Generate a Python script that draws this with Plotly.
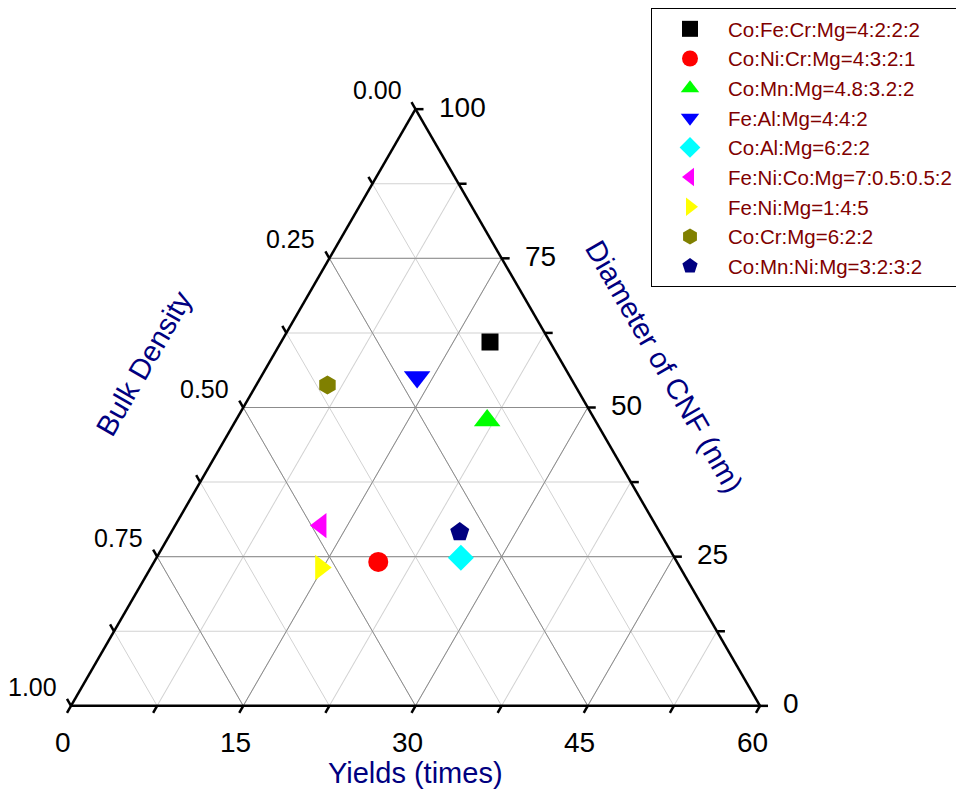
import math
import plotly.graph_objects as go

# ---- data ----
names = ["Co:Fe:Cr:Mg=4:2:2:2", "Co:Ni:Cr:Mg=4:3:2:1", "Co:Mn:Mg=4.8:3.2:2",
         "Fe:Al:Mg=4:4:2", "Co:Al:Mg=6:2:2", "Fe:Ni:Co:Mg=7:0.5:0.5:2",
         "Fe:Ni:Mg=1:4:5", "Co:Cr:Mg=6:2:2", "Co:Mn:Ni:Mg=3:2:3:2"]
diameter = [61.0, 24.1, 47.8, 55.1, 24.8, 30.2, 23.2, 53.8, 29.1]          # nm, 0-100
bulk_density = [0.087, 0.433, 0.157, 0.222, 0.310, 0.486, 0.522, 0.359, 0.290]  # 0-1
yields = [18.2, 19.5, 21.9, 13.6, 26.5, 12.7, 14.8, 6.2, 25.1]             # times, 0-60

symbols = ["square", "circle", "triangle-up", "triangle-down", "diamond",
           "triangle-left", "triangle-right", "hexagon", "pentagon"]
colors = ["#000000", "#FF0000", "#00FF00", "#0000FF", "#00FFFF",
          "#FF00FF", "#FFFF00", "#808000", "#000080"]
sizes = [17, 20, 23, 23, 20, 22, 22, 19, 20]

tick_vals = [0, 0.125, 0.25, 0.375, 0.5, 0.625, 0.75, 0.875, 1.0]
major_vals = [0.0, 0.25, 0.5, 0.75, 1.0]
density_labels = ["0.00", "0.25", "0.50", "0.75", "1.00"]
yield_labels = ["0", "15", "30", "45", "60"]
diam_labels = ["0", "25", "50", "75", "100"]

DIAM_MAX, YIELD_MAX = 100.0, 60.0

# ---- page geometry (the page body adds an 8px offset) ----
OFF = 8
W, H = 964 - OFF, 794 - OFF
ML, MT = 71 - OFF, 109 - OFF
PW, PH = 689, 597
MR, MB = W - ML - PW, H - MT - PH
SIDE = min(PW, PH * 2 / math.sqrt(3))
TH = SIDE * math.sqrt(3) / 2
X0 = ML + PW / 2 - SIDE / 2
Y0 = MT + PH / 2 - TH / 2          # apex y (px from figure top)


def tern_px(a, c):
    """figure-pixel position of a ternary point (a top, c bottom-right)."""
    return X0 + SIDE * (c + a / 2), Y0 + TH * (1 - a)


def to_paper(px, py):
    return (px - ML) / PW, (H - MB - py) / PH


def page_to_paper(px, py):
    return to_paper(px - OFF, py - OFF)


font_fam = "Liberation Sans, Arial, sans-serif"
fig = go.Figure()

# major gridlines (darker) drawn over the light minor grid
ga, gb, gc = [], [], []
for v in major_vals[1:-1]:
    ga += [v, v, None, 1 - v, 0, None, 1 - v, 0, None]
    gb += [1 - v, 0, None, v, v, None, 0, 1 - v, None]
    gc += [0, 1 - v, None, 0, 1 - v, None, v, v, None]
fig.add_trace(go.Scatterternary(a=ga, b=gb, c=gc, mode="lines",
                                line=dict(color="#8c8c8c", width=1),
                                showlegend=False, hoverinfo="skip"))

for i, n in enumerate(names):
    fig.add_trace(go.Scatterternary(
        a=[diameter[i] / DIAM_MAX], b=[bulk_density[i]], c=[yields[i] / YIELD_MAX],
        mode="markers", name=n,
        marker=dict(symbol=symbols[i], color=colors[i], size=sizes[i],
                    line=dict(width=0))))

# ---- ticks (extensions of the grid lines) and tick labels ----
TL = 8
s60, c60 = math.sin(math.radians(60)), math.cos(math.radians(60))
shapes, annotations = [], []


def tick(px, py, dx, dy):
    x0p, y0p = to_paper(px, py)
    x1p, y1p = to_paper(px + dx, py + dy)
    shapes.append(dict(type="line", xref="paper", yref="paper",
                       x0=x0p, y0=y0p, x1=x1p, y1=y1p,
                       line=dict(color="black", width=2.5)))


for v in tick_vals:
    px, py = tern_px(1 - v, 0)          # left edge: density = b, tick up-left
    tick(px, py, -TL * c60, -TL * s60)
    px, py = tern_px(0, v)              # bottom edge: yields = c, tick down-left
    tick(px, py, -TL * c60, TL * s60)
    px, py = tern_px(v, 1 - v)          # right edge: diameter = a, tick right
    tick(px, py, TL, 0)

for v, lab in zip(major_vals, density_labels):
    px, py = tern_px(1 - v, 0)
    x, y = to_paper(px - 12, py - 19)
    annotations.append(dict(text=lab, x=x, y=y, xref="paper", yref="paper",
                            xanchor="right", yanchor="middle", showarrow=False,
                            font=dict(size=25, color="black", family=font_fam)))
for v, lab in zip(major_vals, yield_labels):
    px, py = tern_px(0, v)
    x, y = to_paper(px - 8, py + 37)
    annotations.append(dict(text=lab, x=x, y=y, xref="paper", yref="paper",
                            xanchor="center", yanchor="middle", showarrow=False,
                            font=dict(size=28, color="black", family=font_fam)))
for v, lab in zip(major_vals, diam_labels):
    px, py = tern_px(v, 1 - v)
    x, y = to_paper(px + 21, py - 2)
    annotations.append(dict(text=lab, x=x, y=y, xref="paper", yref="paper",
                            xanchor="left", yanchor="middle", showarrow=False,
                            font=dict(size=28, color="black", family=font_fam)))

# axis titles (positions in page pixels)
title_font = dict(size=29, color="#000080", family=font_fam)
for txt, (px, py), ang in [("Bulk Density", (144, 363), -60),
                           ("Diameter of CNF (nm)", (664, 366), 60),
                           ("Yields (times)", (415, 773), 0)]:
    x, y = page_to_paper(px, py)
    annotations.append(dict(text=txt, x=x, y=y, xref="paper", yref="paper",
                            xanchor="center", yanchor="middle",
                            showarrow=False, textangle=ang, font=title_font))

axis_common = dict(tickmode="array", tickvals=tick_vals, ticks="",
                   showticklabels=False,
                   linecolor="black", linewidth=2.5, showgrid=True,
                   gridcolor="#d2d2d2", gridwidth=1, min=0, title=dict(text=""))

fig.update_layout(
    width=W, height=H,
    margin=dict(l=ML, r=MR, t=MT, b=MB, autoexpand=False),
    paper_bgcolor="white", plot_bgcolor="white",
    font=dict(family=font_fam, color="black"),
    ternary=dict(sum=1, bgcolor="white",
                 aaxis=axis_common, baxis=axis_common, caxis=axis_common),
    legend=dict(x=(651 - OFF) / W, y=1.0, xref="container", yref="container",
                xanchor="left", yanchor="top",
                bordercolor="black", borderwidth=1, bgcolor="white",
                font=dict(size=20.5, color="#800000", family=font_fam),
                itemsizing="trace", itemwidth=66),
    shapes=shapes,
    annotations=annotations,
)

fig.write_html("out.html")
